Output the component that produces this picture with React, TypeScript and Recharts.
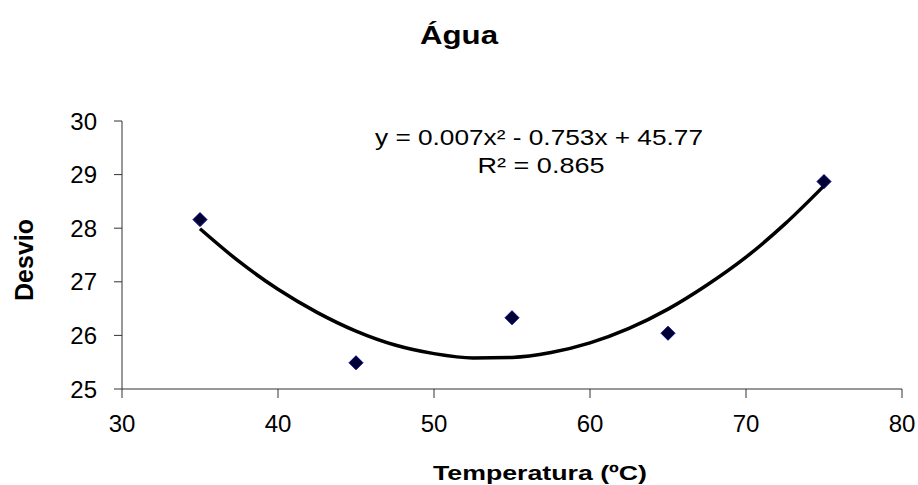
import { ComposedChart, Line, Scatter, XAxis, YAxis } from "recharts";

// measured points (temperature vs desvio)
const temps = [35, 45, 55, 65, 75];
const desvio = [28.16, 25.49, 26.33, 26.04, 28.87];

// polynomial trendline
const trendX = [35, 37.5, 40, 42.5, 45, 47.5, 50, 52.5, 55, 57.5, 60, 62.5, 65, 67.5, 70, 72.5, 75];
const trendY = [27.99, 27.38, 26.86, 26.43, 26.08, 25.82, 25.66, 25.58, 25.59, 25.68, 25.86, 26.13, 26.49, 26.94, 27.46, 28.08, 28.79];

const xTicks = [30, 40, 50, 60, 70, 80];
const yTicks = [25, 26, 27, 28, 29, 30];

const title = "Água";
const equation = "y = 0.007x² - 0.753x + 45.77";
const rSquared = "R² = 0.865";
const xLabel = "Temperatura (ºC)";
const yLabel = "Desvio";

const FONT = "'Liberation Sans', Arial, sans-serif";

const points = temps.map((x, i) => ({ x, y: desvio[i] }));
const trend = trendX.map((x, i) => ({ x, y: trendY[i] }));

function Diamond(props: any) {
  const { cx, cy } = props;
  if (cx == null || cy == null) return null;
  const r = 7;
  return (
    <polygon
      points={`${cx},${cy - r} ${cx + r},${cy} ${cx},${cy + r} ${cx - r},${cy}`}
      fill="#000033"
      stroke="#000080"
      strokeWidth={1}
    />
  );
}

export default function App() {
  return (
    <div
      style={{
        position: "absolute",
        left: 0,
        top: 0,
        width: 918,
        height: 485,
        background: "#fff",
        fontFamily: FONT,
      }}
    >
      <ComposedChart
        width={918}
        height={485}
        margin={{ top: 121, right: 16, bottom: 0, left: 0 }}
      >
        <XAxis
          type="number"
          dataKey="x"
          domain={[30, 80]}
          ticks={xTicks}
          allowDataOverflow
          height={96}
          tickSize={9}
          tickMargin={17}
          stroke="#333"
          tick={{ fontSize: 24, fill: "#000", fontFamily: FONT }}
        />
        <YAxis
          type="number"
          dataKey="y"
          domain={[25, 30]}
          ticks={yTicks}
          allowDataOverflow
          width={122}
          tickSize={8}
          tickMargin={17}
          stroke="#333"
          tick={{ fontSize: 24, fill: "#000", fontFamily: FONT }}
        />
        <Line
          data={trend}
          dataKey="y"
          type="monotone"
          stroke="#000"
          strokeWidth={3.5}
          dot={false}
          activeDot={false}
          isAnimationActive={false}
        />
        <Scatter
          data={points}
          dataKey="y"
          shape={(p: any) => <Diamond {...p} />}
          isAnimationActive={false}
        />
      </ComposedChart>
      <svg
        width={918}
        height={485}
        style={{ position: "absolute", left: 0, top: 0, pointerEvents: "none" }}
      >
        <text
          x={459}
          y={44}
          textAnchor="middle"
          fontFamily={FONT}
          fontSize={25}
          fontWeight="bold"
          textLength={78}
          lengthAdjust="spacingAndGlyphs"
        >
          {title}
        </text>
        <text
          x={539}
          y={145}
          textAnchor="middle"
          fontFamily={FONT}
          fontSize={22}
          textLength={328}
          lengthAdjust="spacingAndGlyphs"
        >
          {equation}
        </text>
        <text
          x={541}
          y={173}
          textAnchor="middle"
          fontFamily={FONT}
          fontSize={22}
          textLength={127}
          lengthAdjust="spacingAndGlyphs"
        >
          {rSquared}
        </text>
        <text
          x={540}
          y={480}
          textAnchor="middle"
          fontFamily={FONT}
          fontSize={20}
          fontWeight="bold"
          textLength={214}
          lengthAdjust="spacingAndGlyphs"
        >
          {xLabel}
        </text>
        <text
          x={33}
          y={260}
          textAnchor="middle"
          fontFamily={FONT}
          fontSize={25}
          fontWeight="bold"
          transform="rotate(-90 33 260)"
        >
          {yLabel}
        </text>
      </svg>
    </div>
  );
}
